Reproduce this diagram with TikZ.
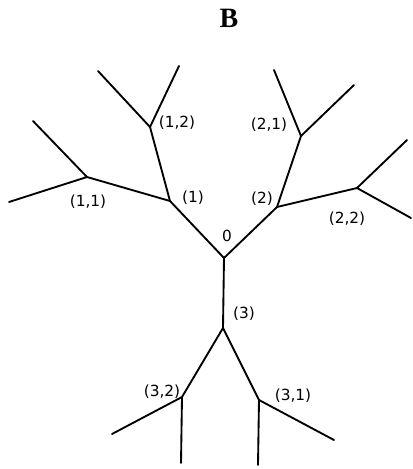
\documentclass[tikz,border=0pt]{standalone}
\usepackage{fontspec}
\setmainfont{Liberation Serif}
\setsansfont{DejaVu Sans}
\usepackage{tikz}
\tikzset{
  trbranch/.style={draw=black, line width=1.4pt, line cap=round, line join=round},
  trlbl/.style   ={font=\sffamily\fontsize{11.5}{13}\selectfont, inner sep=0pt},
  trtitle/.style ={font=\bfseries\fontsize{21}{24}\selectfont, inner sep=0pt},
}
\begin{document}
\begin{tikzpicture}[x=0.75pt, y=-0.75pt]
  \useasboundingbox (0,0) rectangle (412,469);
  \node[trtitle] (title) at (229,18) {B};
  % branch points
  \coordinate (r)   at (224,258);
  \coordinate (n1)  at (170,201);
  \coordinate (n2)  at (277,207);
  \coordinate (n3)  at (223,328);
  \coordinate (n11) at (87,177);
  \coordinate (n12) at (150,127);
  \coordinate (n21) at (301,136);
  \coordinate (n22) at (357,188);
  \coordinate (n31) at (259,400);
  \coordinate (n32) at (182,397);
  % free ends
  \coordinate (l11a) at (33,121);
  \coordinate (l11b) at (9,202);
  \coordinate (l12a) at (98,71);
  \coordinate (l12b) at (179,66);
  \coordinate (l21a) at (274,70);
  \coordinate (l21b) at (354,85);
  \coordinate (l22a) at (407,140);
  \coordinate (l22b) at (411,218);
  \coordinate (l31a) at (334,440);
  \coordinate (l31b) at (258,465);
  \coordinate (l32a) at (112,434);
  \coordinate (l32b) at (181,463);
  % tree
  \foreach \n in {n1,n2,n3}{\draw[trbranch] (r) -- (\n);}
  \foreach \n in {n11,n12}{\draw[trbranch] (n1) -- (\n);}
  \foreach \n in {n21,n22}{\draw[trbranch] (n2) -- (\n);}
  \foreach \n in {n31,n32}{\draw[trbranch] (n3) -- (\n);}
  \foreach \n/\a/\b in {n11/l11a/l11b, n12/l12a/l12b, n21/l21a/l21b,
                        n22/l22a/l22b, n31/l31a/l31b, n32/l32a/l32b}{
    \draw[trbranch] (\a) -- (\n) -- (\b);}
  % labels
  \node[trlbl] (t0)  at (227,236) {0};
  \node[trlbl] (t1)  at (193,198) {(1)};
  \node[trlbl] (t2)  at (262,199) {(2)};
  \node[trlbl] (t3)  at (244,314) {(3)};
  \node[trlbl] (t11) at (88,202)  {(1,1)};
  \node[trlbl] (t12) at (177,123) {(1,2)};
  \node[trlbl] (t21) at (269,125) {(2,1)};
  \node[trlbl] (t22) at (347,219) {(2,2)};
  \node[trlbl] (t31) at (293,396) {(3,1)};
  \node[trlbl] (t32) at (162,392) {(3,2)};
\end{tikzpicture}
\end{document}
